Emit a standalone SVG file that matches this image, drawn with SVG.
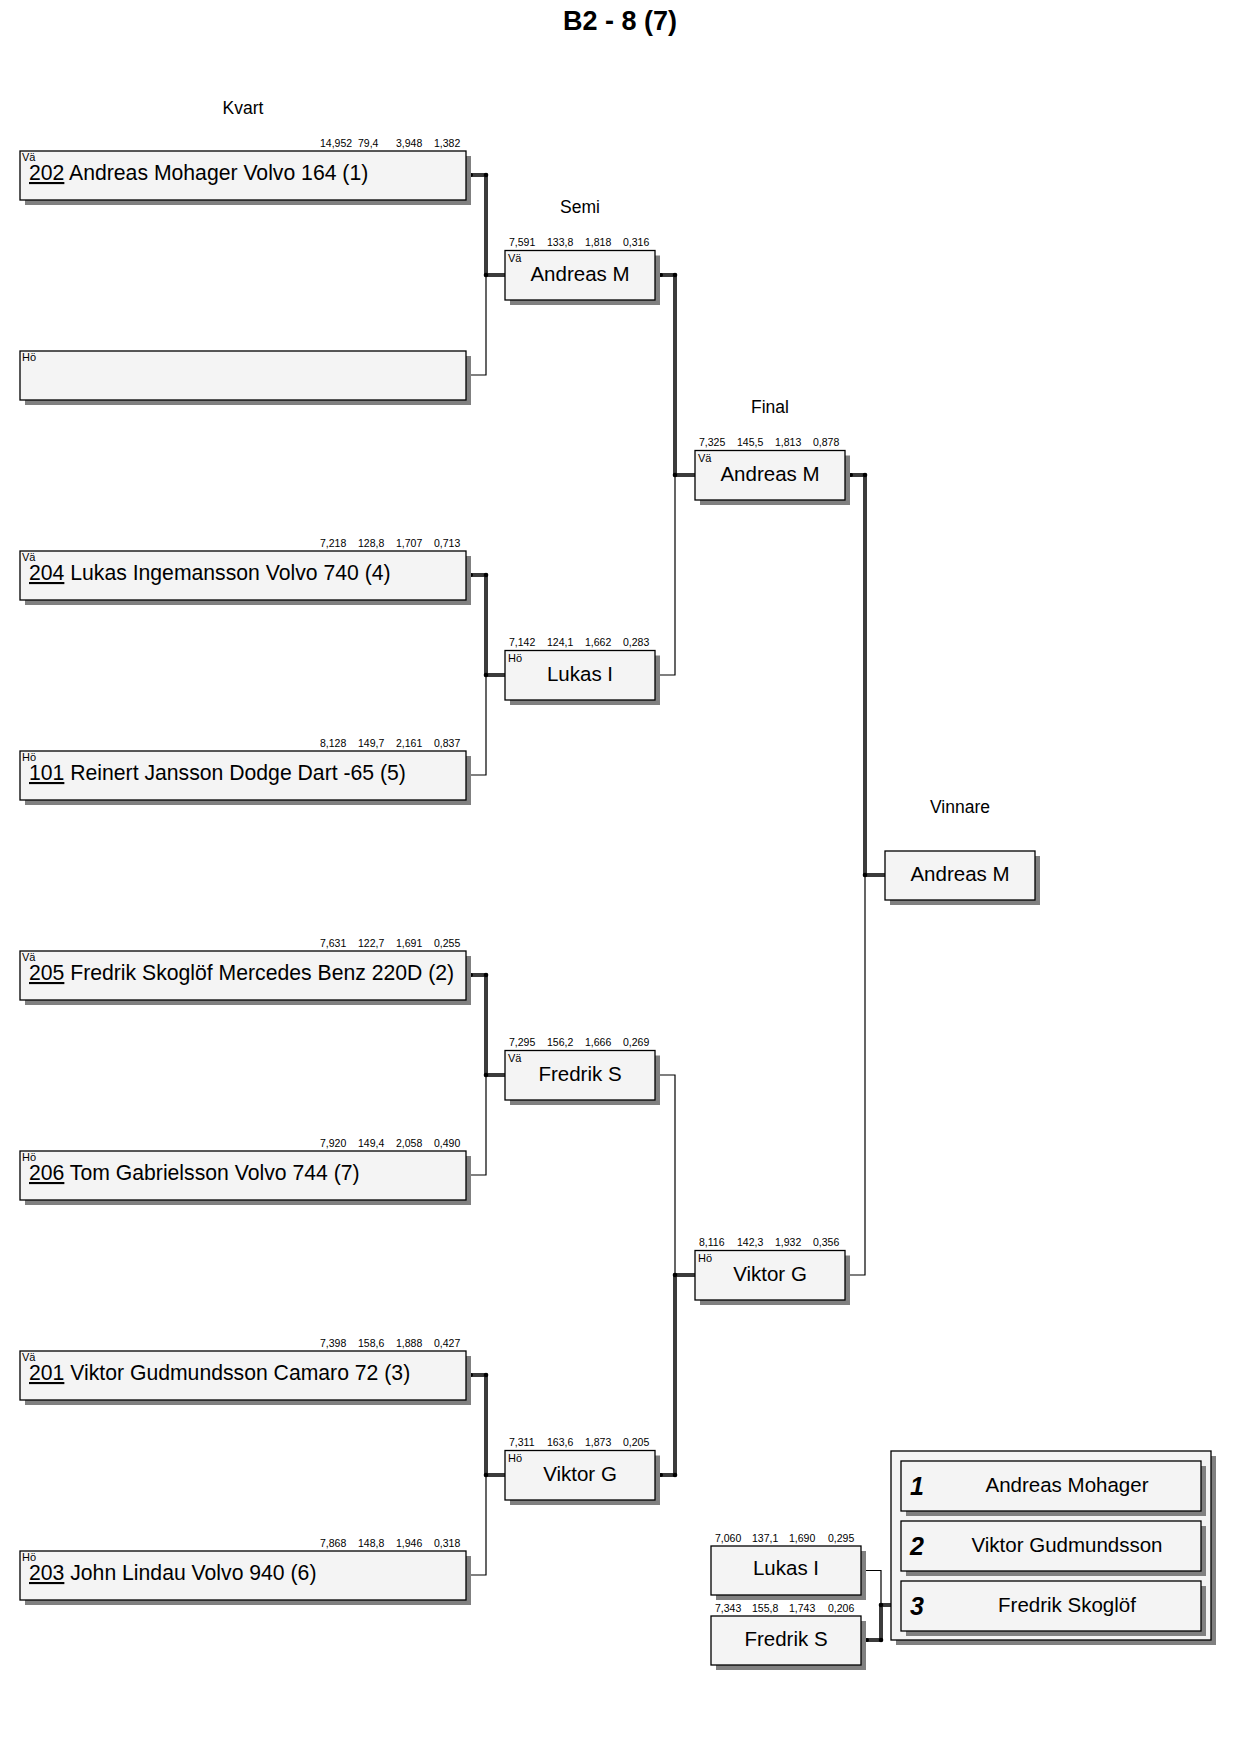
<svg xmlns="http://www.w3.org/2000/svg" width="1240" height="1754" viewBox="0 0 1240 1754">
<style>
text{font-family:"Liberation Sans",Arial,sans-serif;fill:#000}
.box{fill:#f4f4f4;stroke:#000;stroke-width:1.3}
.sh{fill:#808080}
.main{font-size:21.2px}
.mid{font-size:20.5px;text-anchor:middle}
.st{font-size:10.5px}
.side{font-size:11px}
.lbl{font-size:17.5px;text-anchor:middle}
.title{font-size:27px;font-weight:bold;text-anchor:middle}
.num{font-size:25px;font-weight:bold;font-style:italic}
.u{text-decoration:underline}
.thin{fill:none;stroke:#000;stroke-width:1.2}
.thick{fill:none;stroke:#3c3c3c;stroke-width:4;stroke-linejoin:round}
.dot{fill:#000}
</style>
<rect width="1240" height="1754" fill="#fff"/>
<text class="title" x="620" y="30">B2 - 8 (7)</text>
<text class="lbl" x="243" y="113.5">Kvart</text>
<text class="lbl" x="580" y="213">Semi</text>
<text class="lbl" x="770" y="413">Final</text>
<text class="lbl" x="960" y="813">Vinnare</text>

<g id="connectors">
<path class="thin" d="M470 375H486V275 M470 775H486V675 M470 1175H486V1075 M470 1575H486V1475"/>
<path class="thick" d="M470 175H486V275H505 M470 575H486V675H505 M470 975H486V1075H505 M470 1375H486V1475H505"/>
<path class="thin" d="M660 675H675V475 M660 1075H675V1275"/>
<path class="thick" d="M660 275H675V475H695 M660 1475H675V1275H695"/>
<path class="thin" d="M850 1275H865V875"/>
<path class="thick" d="M850 475H865V875H885"/>
<path class="thin" d="M866 1570.5H881V1605"/>
<path class="thick" d="M866 1640H881V1605H891"/>
<g class="dot">
<circle cx="486" cy="175" r="2.3"/><circle cx="486" cy="275" r="2.3"/><circle cx="471" cy="175" r="2"/>
<circle cx="486" cy="575" r="2.3"/><circle cx="486" cy="675" r="2.3"/><circle cx="471" cy="575" r="2"/>
<circle cx="486" cy="975" r="2.3"/><circle cx="486" cy="1075" r="2.3"/><circle cx="471" cy="975" r="2"/>
<circle cx="486" cy="1375" r="2.3"/><circle cx="486" cy="1475" r="2.3"/><circle cx="471" cy="1375" r="2"/>
<circle cx="675" cy="275" r="2.3"/><circle cx="675" cy="475" r="2.3"/><circle cx="661" cy="275" r="2"/>
<circle cx="675" cy="1475" r="2.3"/><circle cx="675" cy="1275" r="2.3"/><circle cx="661" cy="1475" r="2"/>
<circle cx="865" cy="475" r="2.3"/><circle cx="865" cy="875" r="2.3"/><circle cx="851" cy="475" r="2"/>
<circle cx="881" cy="1640" r="2.3"/><circle cx="881" cy="1605" r="2.3"/><circle cx="867" cy="1640" r="2"/>
</g>
</g>

<g id="q1"><rect class="sh" x="25" y="156" width="446" height="49"/><rect class="box" x="20" y="151" width="446" height="49"/>
<text class="side" x="22" y="161">Vä</text>
<text class="main" x="29" y="180"><tspan class="u">202</tspan> Andreas Mohager Volvo 164 (1)</text>
<text class="st" y="147"><tspan x="320">14,952</tspan><tspan x="358">79,4</tspan><tspan x="396">3,948</tspan><tspan x="434">1,382</tspan></text></g>

<g id="q2"><rect class="sh" x="25" y="356" width="446" height="49"/><rect class="box" x="20" y="351" width="446" height="49"/>
<text class="side" x="22" y="361">Hö</text></g>

<g id="q3"><rect class="sh" x="25" y="556" width="446" height="49"/><rect class="box" x="20" y="551" width="446" height="49"/>
<text class="side" x="22" y="561">Vä</text>
<text class="main" x="29" y="580"><tspan class="u">204</tspan> Lukas Ingemansson Volvo 740 (4)</text>
<text class="st" y="547"><tspan x="320">7,218</tspan><tspan x="358">128,8</tspan><tspan x="396">1,707</tspan><tspan x="434">0,713</tspan></text></g>

<g id="q4"><rect class="sh" x="25" y="756" width="446" height="49"/><rect class="box" x="20" y="751" width="446" height="49"/>
<text class="side" x="22" y="761">Hö</text>
<text class="main" x="29" y="780"><tspan class="u">101</tspan> Reinert Jansson Dodge Dart -65 (5)</text>
<text class="st" y="747"><tspan x="320">8,128</tspan><tspan x="358">149,7</tspan><tspan x="396">2,161</tspan><tspan x="434">0,837</tspan></text></g>

<g id="q5"><rect class="sh" x="25" y="956" width="446" height="49"/><rect class="box" x="20" y="951" width="446" height="49"/>
<text class="side" x="22" y="961">Vä</text>
<text class="main" x="29" y="980"><tspan class="u">205</tspan> Fredrik Skoglöf Mercedes Benz 220D (2)</text>
<text class="st" y="947"><tspan x="320">7,631</tspan><tspan x="358">122,7</tspan><tspan x="396">1,691</tspan><tspan x="434">0,255</tspan></text></g>

<g id="q6"><rect class="sh" x="25" y="1156" width="446" height="49"/><rect class="box" x="20" y="1151" width="446" height="49"/>
<text class="side" x="22" y="1161">Hö</text>
<text class="main" x="29" y="1180"><tspan class="u">206</tspan> Tom Gabrielsson Volvo 744 (7)</text>
<text class="st" y="1147"><tspan x="320">7,920</tspan><tspan x="358">149,4</tspan><tspan x="396">2,058</tspan><tspan x="434">0,490</tspan></text></g>

<g id="q7"><rect class="sh" x="25" y="1356" width="446" height="49"/><rect class="box" x="20" y="1351" width="446" height="49"/>
<text class="side" x="22" y="1361">Vä</text>
<text class="main" x="29" y="1380"><tspan class="u">201</tspan> Viktor Gudmundsson Camaro 72 (3)</text>
<text class="st" y="1347"><tspan x="320">7,398</tspan><tspan x="358">158,6</tspan><tspan x="396">1,888</tspan><tspan x="434">0,427</tspan></text></g>

<g id="q8"><rect class="sh" x="25" y="1556" width="446" height="49"/><rect class="box" x="20" y="1551" width="446" height="49"/>
<text class="side" x="22" y="1561">Hö</text>
<text class="main" x="29" y="1580"><tspan class="u">203</tspan> John Lindau Volvo 940 (6)</text>
<text class="st" y="1547"><tspan x="320">7,868</tspan><tspan x="358">148,8</tspan><tspan x="396">1,946</tspan><tspan x="434">0,318</tspan></text></g>

<g id="s1"><rect class="sh" x="510" y="255.5" width="150" height="49.5"/><rect class="box" x="505" y="250.5" width="150" height="49.5"/>
<text class="side" x="508" y="262">Vä</text>
<text class="mid" x="580" y="281">Andreas M</text>
<text class="st" y="246"><tspan x="509">7,591</tspan><tspan x="547">133,8</tspan><tspan x="585">1,818</tspan><tspan x="623">0,316</tspan></text></g>

<g id="s2"><rect class="sh" x="510" y="655.5" width="150" height="49.5"/><rect class="box" x="505" y="650.5" width="150" height="49.5"/>
<text class="side" x="508" y="662">Hö</text>
<text class="mid" x="580" y="681">Lukas I</text>
<text class="st" y="646"><tspan x="509">7,142</tspan><tspan x="547">124,1</tspan><tspan x="585">1,662</tspan><tspan x="623">0,283</tspan></text></g>

<g id="s3"><rect class="sh" x="510" y="1055.5" width="150" height="49.5"/><rect class="box" x="505" y="1050.5" width="150" height="49.5"/>
<text class="side" x="508" y="1062">Vä</text>
<text class="mid" x="580" y="1081">Fredrik S</text>
<text class="st" y="1046"><tspan x="509">7,295</tspan><tspan x="547">156,2</tspan><tspan x="585">1,666</tspan><tspan x="623">0,269</tspan></text></g>

<g id="s4"><rect class="sh" x="510" y="1455.5" width="150" height="49.5"/><rect class="box" x="505" y="1450.5" width="150" height="49.5"/>
<text class="side" x="508" y="1462">Hö</text>
<text class="mid" x="580" y="1481">Viktor G</text>
<text class="st" y="1446"><tspan x="509">7,311</tspan><tspan x="547">163,6</tspan><tspan x="585">1,873</tspan><tspan x="623">0,205</tspan></text></g>

<g id="f1"><rect class="sh" x="700" y="455.5" width="150" height="49.5"/><rect class="box" x="695" y="450.5" width="150" height="49.5"/>
<text class="side" x="698" y="462">Vä</text>
<text class="mid" x="770" y="481">Andreas M</text>
<text class="st" y="446"><tspan x="699">7,325</tspan><tspan x="737">145,5</tspan><tspan x="775">1,813</tspan><tspan x="813">0,878</tspan></text></g>

<g id="f2"><rect class="sh" x="700" y="1255.5" width="150" height="49.5"/><rect class="box" x="695" y="1250.5" width="150" height="49.5"/>
<text class="side" x="698" y="1262">Hö</text>
<text class="mid" x="770" y="1281">Viktor G</text>
<text class="st" y="1246"><tspan x="699">8,116</tspan><tspan x="737">142,3</tspan><tspan x="775">1,932</tspan><tspan x="813">0,356</tspan></text></g>

<g id="winner"><rect class="sh" x="890" y="856" width="150" height="49"/><rect class="box" x="885" y="851" width="150" height="49"/>
<text class="mid" x="960" y="881">Andreas M</text></g>

<g id="t1"><rect class="sh" x="716" y="1551" width="150" height="49"/><rect class="box" x="711" y="1546" width="150" height="49"/>
<text class="mid" x="786" y="1575">Lukas I</text>
<text class="st" y="1541.5"><tspan x="715">7,060</tspan><tspan x="752">137,1</tspan><tspan x="789">1,690</tspan><tspan x="828">0,295</tspan></text></g>

<g id="t2"><rect class="sh" x="716" y="1621" width="150" height="49"/><rect class="box" x="711" y="1616" width="150" height="49"/>
<text class="mid" x="786" y="1646">Fredrik S</text>
<text class="st" y="1611.5"><tspan x="715">7,343</tspan><tspan x="752">155,8</tspan><tspan x="789">1,743</tspan><tspan x="828">0,206</tspan></text></g>

<g id="podium">
<rect class="sh" x="896" y="1456" width="320" height="189"/><rect class="box" x="891" y="1451" width="320" height="189"/>
<rect class="sh" x="906" y="1466" width="300" height="50"/><rect class="box" x="901" y="1461" width="300" height="50"/>
<text class="num" x="910" y="1495">1</text><text class="mid" x="1067" y="1492">Andreas Mohager</text>
<rect class="sh" x="906" y="1526" width="300" height="50"/><rect class="box" x="901" y="1521" width="300" height="50"/>
<text class="num" x="910" y="1555">2</text><text class="mid" x="1067" y="1552">Viktor Gudmundsson</text>
<rect class="sh" x="906" y="1586" width="300" height="50"/><rect class="box" x="901" y="1581" width="300" height="50"/>
<text class="num" x="910" y="1615">3</text><text class="mid" x="1067" y="1612">Fredrik Skoglöf</text>
</g>
</svg>
